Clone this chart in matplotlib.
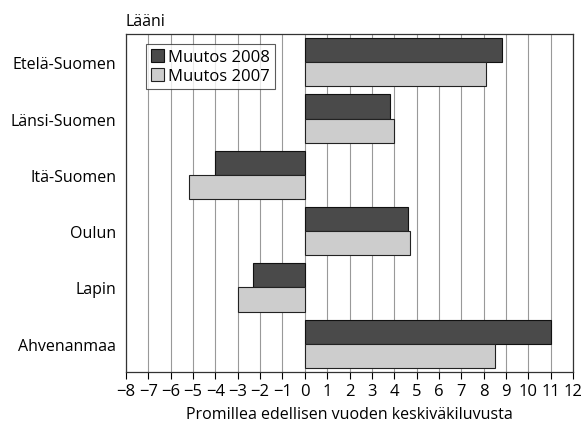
import numpy as np
import matplotlib.pyplot as plt

plt.rcParams['font.family'] = ['Open Sans', 'DejaVu Sans']

# data
regions = ['Etelä-Suomen', 'Länsi-Suomen', 'Itä-Suomen', 'Oulun', 'Lapin', 'Ahvenanmaa']
muutos_2008 = [8.8, 3.8, -4.0, 4.6, -2.3, 11.0]
muutos_2007 = [8.1, 4.0, -5.2, 4.7, -3.0, 8.5]
xticks = list(range(-8, 13))

fig = plt.figure(figsize=(5.86, 4.27), dpi=100)
ax = fig.add_axes([0.215, 0.1265, 0.763, 0.7915])

y = np.arange(len(regions))
h = 0.43
ax.barh(y - h / 2, muutos_2008, height=h, color='#4a4a4a', edgecolor='#111111',
        linewidth=0.8, label='Muutos 2008', zorder=3)
ax.barh(y + h / 2, muutos_2007, height=h, color='#cdcdcd', edgecolor='#222222',
        linewidth=0.8, label='Muutos 2007', zorder=3)

ax.set_xlim(-8, 12)
ax.set_ylim(5.5, -0.5)
ax.set_xticks(xticks)
ax.set_xticklabels([str(t).replace('-', '\u2212') for t in xticks], fontsize=12)
ax.set_yticks(y)
ax.set_yticklabels(regions, fontsize=11.5)
ax.tick_params(axis='y', length=0, pad=7)
ax.tick_params(axis='x', length=5, width=0.8, direction='out', pad=3)
ax.grid(axis='x', color='#999999', linewidth=0.8, zorder=0)

for s in ax.spines.values():
    s.set_linewidth(0.9)
    s.set_color('#333333')

ax.set_xlabel('Promillea edellisen vuoden keskiväkiluvusta', fontsize=11.5, labelpad=5)
ax.text(0.0, 1.015, 'Lääni', transform=ax.transAxes, fontsize=11.5,
        ha='left', va='bottom')

leg = ax.legend(loc='upper left', bbox_to_anchor=(0.045, 0.97), fontsize=12,
                frameon=True, fancybox=False, edgecolor='#333333',
                handlelength=0.8, handleheight=0.8, handletextpad=0.2,
                borderpad=0.3, labelspacing=0.15, borderaxespad=0)
leg.get_frame().set_linewidth(0.8)

fig.savefig('out.png', dpi=100)
